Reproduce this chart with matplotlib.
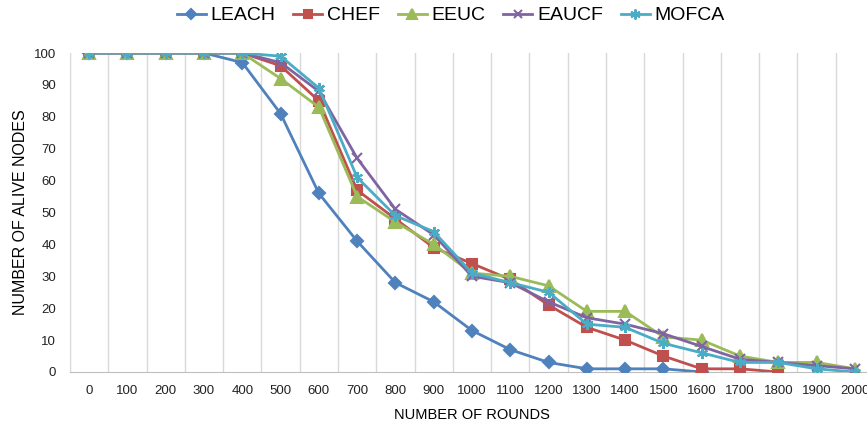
import matplotlib
matplotlib.use("Agg")
import matplotlib.pyplot as plt

plt.rcParams["font.family"] = ["Liberation Sans Narrow", "Liberation Sans", "DejaVu Sans"]

# Alive nodes per protocol over simulation rounds
rounds = [0, 100, 200, 300, 400, 500, 600, 700, 800, 900, 1000,
          1100, 1200, 1300, 1400, 1500, 1600, 1700, 1800, 1900, 2000]
leach = [100, 100, 100, 100, 97, 81, 56, 41, 28, 22, 13, 7, 3, 1, 1, 1, 0]
chef = [100, 100, 100, 100, 100, 96, 85, 57, 48, 39, 34, 29, 21, 14, 10, 5, 1, 1, 0]
eeuc = [100, 100, 100, 100, 100, 92, 83, 55, 47, 40, 31, 30, 27, 19, 19, 11, 10, 5, 3, 3, 1]
eaucf = [100, 100, 100, 100, 100, 97, 88, 67, 51, 43, 30, 28, 22, 17, 15, 12, 8, 4, 3, 2, 1]
mofca = [100, 100, 100, 100, 100, 99, 89, 61, 49, 44, 31, 28, 25, 15, 14, 9, 6, 3, 3, 1, 0]

series = [
    ("LEACH", leach, "#4F81BD", "D", 6),
    ("CHEF", chef, "#C0504D", "s", 7),
    ("EEUC", eeuc, "#9BBB59", "^", 8),
    ("EAUCF", eaucf, "#8064A2", "x", 7),
    ("MOFCA", mofca, "#4BACC6", (6, 2, 0), 8),
]

W, H = 867, 425
fig = plt.figure(figsize=(W / 100, H / 100), dpi=100)
ax = fig.add_axes([70 / W, 53 / H, 804 / W, 319 / H])

for name, vals, color, marker, ms in series:
    ax.plot(rounds[:len(vals)], vals, color=color, lw=2, marker=marker,
            markersize=ms, markeredgewidth=1.5, markeredgecolor=color,
            markerfacecolor=color, label=name, zorder=3)

ax.set_xlim(-50, 2050)
ax.set_ylim(0, 100)
ax.set_xticks(rounds)
ax.set_xticklabels([str(r) for r in rounds], fontsize=9)
ax.set_yticks(range(0, 101, 10))
ax.tick_params(axis="both", length=0, labelsize=9.5, colors="#222222")
ax.tick_params(axis="x", pad=9)
ax.tick_params(axis="y", pad=10)

# vertical gridlines sit between categories
for gx in range(-50, 2051, 100):
    ax.axvline(gx, color="#D9D9D9", lw=1, zorder=1)

for side in ["top", "right"]:
    ax.spines[side].set_visible(False)
ax.spines["left"].set_color("#D9D9D9")
ax.spines["bottom"].set_color("#BFBFBF")

ax.set_xlabel("NUMBER OF ROUNDS", fontsize=10.5, labelpad=8)
ax.set_ylabel("NUMBER OF ALIVE NODES", fontsize=11.5, labelpad=4)

fig.legend(loc="upper center", bbox_to_anchor=(0.52, 1.025), ncol=5,
           frameon=False, fontsize=14, handlelength=1.5, columnspacing=0.9,
           handletextpad=0.25, markerscale=0.9)

fig.savefig("out.png", dpi=100, facecolor="white")
